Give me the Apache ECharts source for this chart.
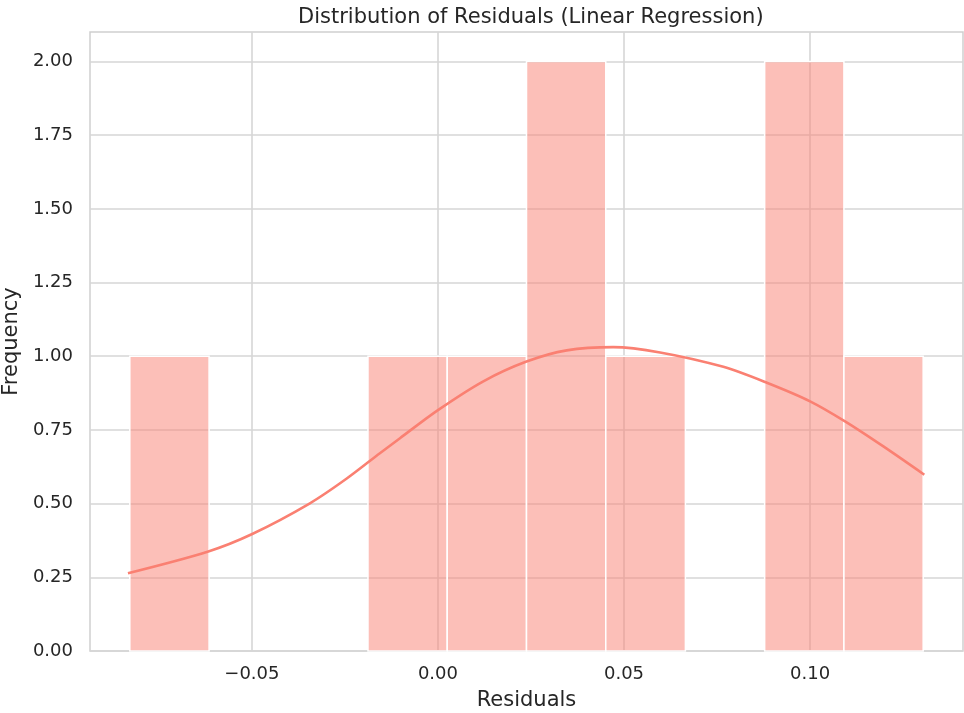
<!DOCTYPE html>
<html>
<head>
<meta charset="utf-8">
<script src="https://cdn.jsdelivr.net/npm/echarts@6/dist/echarts.min.js"></script>
<style>
html,body{margin:0;padding:0;background:#fff;}
#chart{width:964px;height:713px;}
</style>
</head>
<body>
<div id="chart"></div>
<script>
// Histogram bin edges (residual values) and counts
var binEdges = [-0.0828, -0.0615, -0.0402, -0.0188, 0.0025, 0.0238, 0.0451, 0.0665, 0.0878, 0.1091, 0.1304];
var binCounts = [1, 0, 0, 1, 1, 2, 1, 0, 2, 1];
// KDE curve: [residual, frequency]
var kdeX = [-0.0833, -0.0619, -0.0499, -0.0344, -0.0245, -0.0156, -0.0102, 0.0001, 0.0122, 0.0238, 0.0346, 0.0471, 0.0597, 0.0767, 0.0884, 0.1000, 0.1094, 0.1197, 0.1307];
var kdeY = [0.264, 0.337, 0.397, 0.501, 0.585, 0.671, 0.722, 0.818, 0.915, 0.982, 1.020, 1.031, 1.013, 0.964, 0.910, 0.847, 0.779, 0.694, 0.598];
// Tick labels
var xTicks = [-0.05, 0.00, 0.05, 0.10];
var yTicks = [0, 0.25, 0.5, 0.75, 1.0, 1.25, 1.5, 1.75, 2.0];

var histData = binCounts.map(function (c, i) { return [binEdges[i], binEdges[i + 1], c]; });
var kdeData = kdeX.map(function (x, i) { return [x, kdeY[i]]; });

var FONT = 'DejaVu Sans';
var TXT = '#262626';
var GRIDC = '#d6d6d6';

var chart = echarts.init(document.getElementById('chart'), null, { renderer: 'canvas' });
chart.setOption({
  backgroundColor: '#ffffff',
  animation: false,
  title: {
    text: 'Distribution of Residuals (Linear Regression)',
    left: 293, top: 2,
    textStyle: { fontFamily: FONT, fontSize: 21, fontWeight: 'normal', color: TXT }
  },
  grid: {
    left: 90, right: 1, top: 32, bottom: 62,
    outerBoundsMode: 'none', containLabel: false,
    show: true, borderColor: '#cfcfcf', borderWidth: 1.5, backgroundColor: 'transparent'
  },
  xAxis: {
    type: 'value', min: -0.0935, max: 0.1411,
    name: 'Residuals', nameLocation: 'middle', nameGap: 39,
    nameTextStyle: { fontFamily: FONT, fontSize: 21, color: TXT },
    axisLine: { show: false },
    axisTick: { show: false, customValues: xTicks },
    axisLabel: {
      customValues: xTicks, margin: 14,
      fontFamily: FONT, fontSize: 18, color: TXT,
      formatter: function (v) { return (v < 0 ? '\u2212' : '') + Math.abs(v).toFixed(2); }
    },
    splitLine: { show: true, lineStyle: { color: GRIDC, width: 1.6 } }
  },
  yAxis: {
    type: 'value', min: 0, max: 2.1,
    name: 'Frequency', nameLocation: 'middle', nameGap: 63,
    nameTextStyle: { fontFamily: FONT, fontSize: 21, color: TXT },
    axisLine: { show: false },
    axisTick: { show: false, customValues: yTicks },
    axisLabel: {
      customValues: yTicks, margin: 17,
      fontFamily: FONT, fontSize: 18, color: TXT,
      formatter: function (v) { return v.toFixed(2); }
    },
    splitLine: { show: true, lineStyle: { color: GRIDC, width: 1.6 } }
  },
  series: [
    {
      type: 'custom',
      data: histData,
      encode: { x: [0, 1], y: 2 },
      z: 2,
      renderItem: function (params, api) {
        var c = api.value(2);
        if (!c) return null;
        var p0 = api.coord([api.value(0), 0]);
        var p1 = api.coord([api.value(1), c]);
        return {
          type: 'rect',
          shape: { x: p0[0], y: p1[1], width: p1[0] - p0[0], height: p0[1] - p1[1] },
          style: { fill: 'rgba(250,128,114,0.5)', stroke: '#ffffff', lineWidth: 1.5 }
        };
      }
    },
    {
      type: 'line',
      data: kdeData,
      smooth: 0.3,
      showSymbol: false,
      z: 3,
      lineStyle: { color: '#fa8072', width: 2.6 }
    }
  ]
});
</script>
</body>
</html>
